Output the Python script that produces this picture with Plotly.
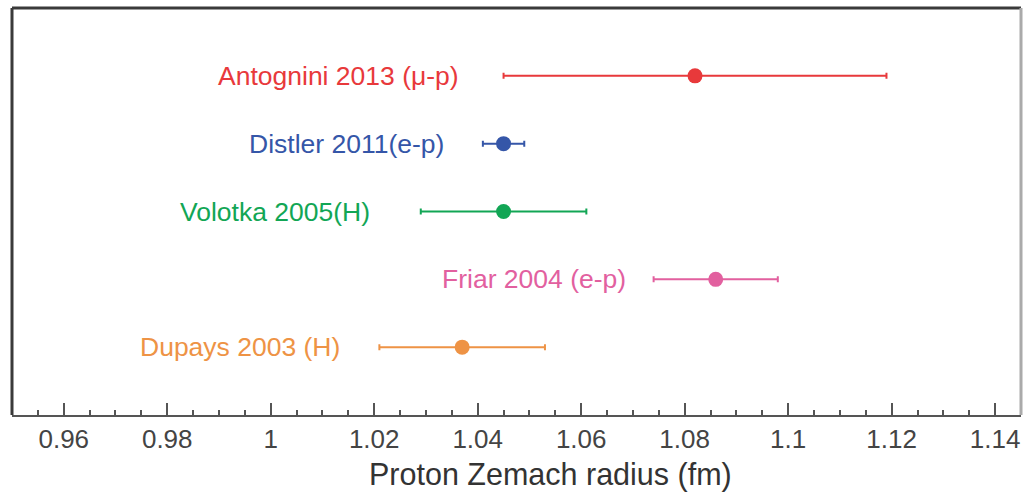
import plotly.graph_objects as go

# Proton Zemach radius determinations (fm) with one-sigma uncertainties
labels = ["Antognini 2013 (μ-p)", "Distler 2011(e-p)", "Volotka 2005(H)",
          "Friar 2004 (e-p)", "Dupays 2003 (H)"]
radius = [1.082, 1.045, 1.045, 1.086, 1.037]
uncert = [0.037, 0.004, 0.016, 0.012, 0.016]
row = [5, 4, 3, 2, 1]
colors = ["#e8393b", "#3556a8", "#12a655", "#e2609f", "#ee9345"]
label_gap = [43, 37, 49, 26, 37]  # pixel gap between label and error bar

font = "Liberation Sans, Arial, Helvetica, sans-serif"

fig = go.Figure()
for lab, r, u, y, c in zip(labels, radius, uncert, row, colors):
    fig.add_trace(go.Scatter(
        x=[r], y=[y], mode="markers", name=lab,
        marker=dict(size=15, color=c),
        error_x=dict(type="data", array=[u], symmetric=True,
                     color=c, thickness=2, width=3),
        showlegend=False,
    ))

for lab, r, u, y, c, g in zip(labels, radius, uncert, row, colors, label_gap):
    fig.add_annotation(x=r - u, y=y, text=lab, showarrow=False,
                       xanchor="right", yanchor="middle", xshift=-g,
                       font=dict(family=font, size=26.5, color=c))

# axis title, set slightly right of centre
fig.add_annotation(xref="paper", yref="paper", x=0.534, y=-0.147,
                   text="Proton Zemach radius (fm)", showarrow=False,
                   xanchor="center", yanchor="middle",
                   font=dict(family=font, size=30.5, color="#333"))

# frame: dark top/left, light right
fig.add_shape(type="line", xref="paper", yref="paper", x0=0, x1=1, y0=1, y1=1,
              line=dict(color="#3a3a3a", width=3))
fig.add_shape(type="line", xref="paper", yref="paper", x0=0, x1=0, y0=0, y1=1,
              line=dict(color="#3a3a3a", width=3))
fig.add_shape(type="line", xref="paper", yref="paper", x0=1, x1=1, y0=0, y1=1,
              line=dict(color="#aaaaaa", width=3))

fig.update_layout(
    width=1033, height=493,
    margin=dict(l=12, r=12, t=8, b=78),
    paper_bgcolor="white", plot_bgcolor="white",
    xaxis=dict(
        range=[0.95, 1.145], tickmode="linear", tick0=0.96, dtick=0.02,
        ticks="inside", ticklen=12, tickwidth=2, tickcolor="#555",
        showline=True, linecolor="#555", linewidth=2,
        showgrid=False, zeroline=False,
        tickfont=dict(family=font, size=26, color="#444"),
        minor=dict(dtick=0.005, tick0=0.95, ticks="inside", ticklen=5,
                   tickwidth=1.5, tickcolor="#555", showgrid=False),
    ),
    yaxis=dict(range=[0, 6], visible=False, showgrid=False, zeroline=False),
)

fig.write_html("out.html")
